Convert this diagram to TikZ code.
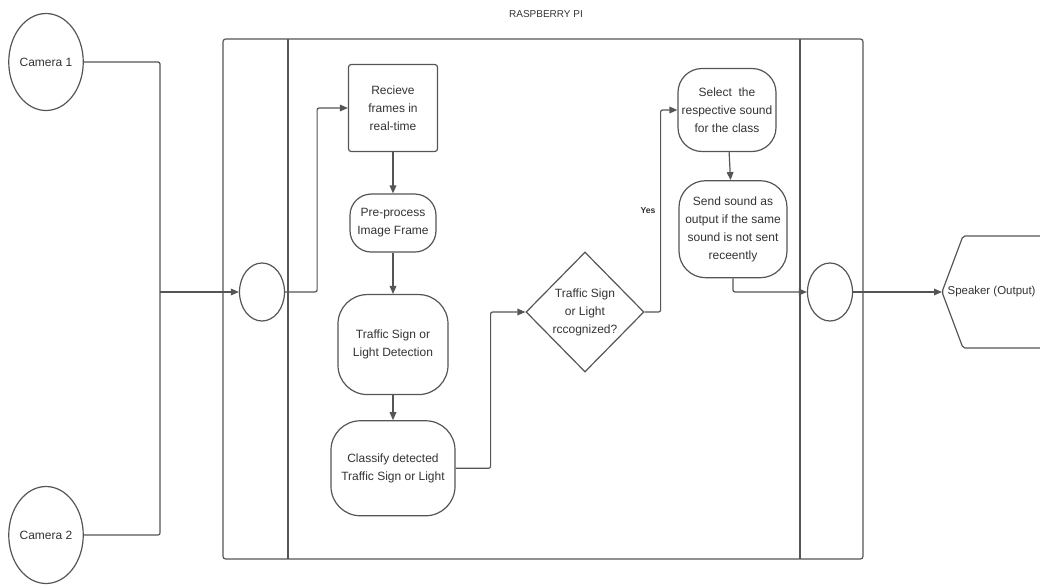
\documentclass[tikz,border=0pt]{standalone}
\usepackage{fontspec}
\setmainfont{Liberation Sans}
\usetikzlibrary{shapes.geometric, arrows.meta, positioning}

\definecolor{edgegray}{HTML}{555555}
\definecolor{textgray}{HTML}{333333}

\begin{document}
\begin{tikzpicture}[
    x=0.75pt, y=-0.75pt,
    node distance=31pt,
    every node/.style={text=textgray, font=\fontsize{9}{13.5}\selectfont},
    box/.style={rectangle, draw=edgegray, line width=0.9pt, rounded corners=2pt, align=center, inner sep=1pt},
    soft/.style={rectangle, draw=edgegray, line width=0.9pt, rounded corners=16pt, align=center, inner sep=1pt},
    camera/.style={ellipse, draw=edgegray, line width=0.9pt, minimum width=54pt, minimum height=72.75pt, inner sep=0pt},
    hub/.style={ellipse, draw=edgegray, line width=0.9pt, minimum width=33.75pt, minimum height=43.5pt},
    decision/.style={diamond, draw=edgegray, line width=0.9pt, align=center, inner sep=0pt, minimum width=88.5pt, minimum height=90pt},
    line/.style={draw=edgegray, line width=0.9pt, -{Triangle[length=6pt, width=5pt]}, rounded corners=1.5pt},
    wire/.style={draw=edgegray, line width=0.9pt, rounded corners=1.5pt},
    title/.style={font=\fontsize{7.5}{9}\selectfont}
]
\useasboundingbox (0,0) rectangle (1040,586);

% Raspberry Pi frame and lanes
\node[draw=edgegray, line width=0.9pt, rounded corners=2pt, minimum width=480pt, minimum height=390pt] (pi) at (543,299) {};
\node[title] (pi_title) at (546,14) {RASPBERRY PI};
\draw[wire] (288,39) -- (288,559);
\draw[wire] (800,39) -- (800,559);

% Inputs
\node[camera] (cam1) at (46,62) {Camera 1};
\node[camera] (cam2) at (46,535) {Camera 2};
\coordinate (merge) at (160,292);

% Nodes inside the Pi
\node[hub] (hub_in) at (262,292) {};
\node[box, minimum width=66.75pt, minimum height=65.25pt] (receive) at (393,108) {Recieve\\frames in\\real-time};
\node[soft, below=of receive, minimum width=64.5pt, minimum height=43.5pt] (preprocess) {Pre-process\\Image Frame};
\node[soft, below=of preprocess, minimum width=82.5pt, minimum height=75pt, rounded corners=22pt] (detect) {Traffic Sign or\\Light Detection};
\node[soft, below=18.75pt of detect, minimum width=93pt, minimum height=71.25pt, rounded corners=22pt] (classify) {Classify detected\\Traffic Sign or Light};
\node[decision] (recognized) at (585,312) {Traffic Sign\\or Light\\rccognized?};
\node[soft, minimum width=73.5pt, minimum height=62.25pt, rounded corners=18pt] (select_sound) at (727,110) {Select\ \ the\\respective sound\\for the class};
\node[soft, below=21pt of select_sound, xshift=4.5pt, minimum width=81pt, minimum height=72.75pt, rounded corners=20pt] (send_sound) {Send sound as\\output if the same\\sound is not sent\\receently};
\node[hub] (hub_out) at (830,292) {};

% Output
\node[anchor=west, inner xsep=4pt, font=\fontsize{8.6}{10}\selectfont] (speaker) at (942,292) {Speaker (Output)};
\draw[wire] (1060,236) -- (963,236) -- (speaker.west) -- (963,348) -- (1060,348);

% Flow
\path[wire] (cam1.east) -| (merge);
\path[wire] (cam2.east) -| (merge);
\path[line] (merge) -- (hub_in.west);
\path[line] (hub_in.east) -- ++(32,0) |- (receive.west);
\path[line] (receive) -- (preprocess);
\path[line] (preprocess) -- (detect);
\path[line] (detect) -- (classify);
\path[line] (classify.east) -- ++(35,0) |- (recognized.west);
\path[line] (recognized.east) -- ++(16,0) |- node[pos=0.25, left, font=\fontsize{6.5}{8}\bfseries] {Yes} (select_sound.west);
\path[line] (select_sound) -- (send_sound);
\path[line] (send_sound.south) |- (hub_out.west);
\path[line] (hub_out.east) -- (speaker.west);

\end{tikzpicture}
\end{document}
